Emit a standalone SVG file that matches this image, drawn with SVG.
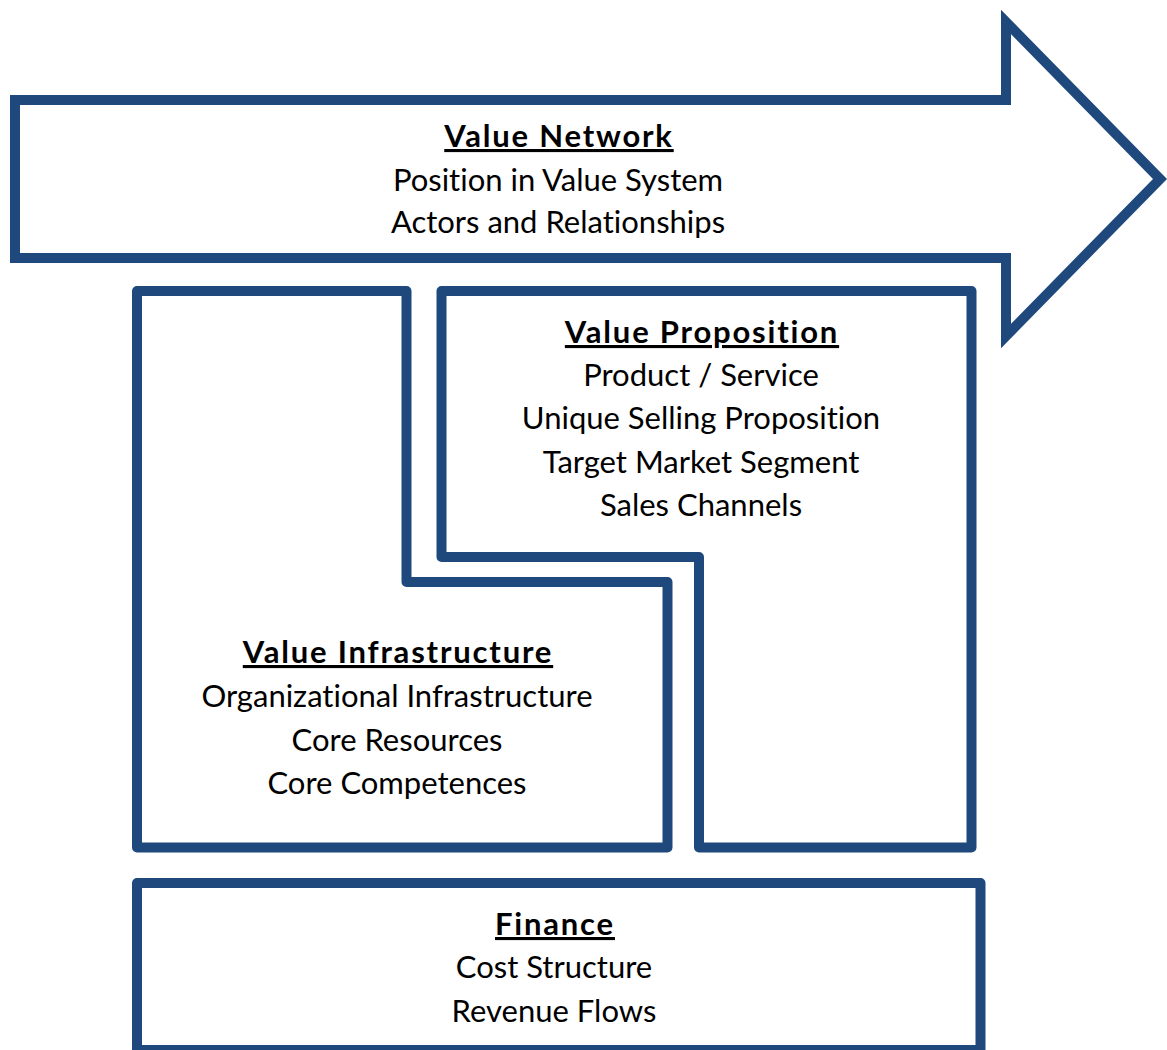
<svg xmlns="http://www.w3.org/2000/svg" width="1167" height="1050" viewBox="0 0 1167 1050">
  <style>
    .frame { fill: #ffffff; stroke: #1f497d; stroke-width: 10; }
    .round { stroke-linejoin: round; }
    .sharp { stroke-linejoin: miter; stroke-miterlimit: 10; }
    text { font-family: Lato, "Liberation Sans", Arial, sans-serif; font-size: 31px; fill: #000000; text-anchor: middle; font-variant-ligatures: none; }
    .title { font-weight: bold; text-decoration: underline; letter-spacing: 1.8px; }
  </style>
  <rect x="0" y="0" width="1167" height="1050" fill="#ffffff"/>

  <g id="value-network">
    <path class="frame sharp" d="M15,100 H1006 V22 L1160,179 L1006,336 V258 H15 Z"/>
    <text class="title" x="559" y="147">Value Network</text>
    <text x="558" y="191">Position in Value System</text>
    <text x="558" y="233">Actors and Relationships</text>
  </g>

  <g id="value-infrastructure">
    <path class="frame round" d="M137,291 H406.5 V582 H667.5 V847.5 H137 Z"/>
    <text class="title" x="398" y="663">Value Infrastructure</text>
    <text x="397" y="707">Organizational Infrastructure</text>
    <text x="397" y="751">Core Resources</text>
    <text x="397" y="794">Core Competences</text>
  </g>

  <g id="value-proposition">
    <path class="frame round" d="M441.5,291 H971.5 V847.5 H699 V557 H441.5 Z"/>
    <text class="title" x="702" y="343">Value Proposition</text>
    <text x="701" y="386">Product / Service</text>
    <text x="701" y="429">Unique Selling Proposition</text>
    <text x="701" y="473">Target Market Segment</text>
    <text x="701" y="516">Sales Channels</text>
  </g>

  <g id="finance">
    <rect class="frame round" x="137" y="883" width="843.5" height="167"/>
    <text class="title" x="555" y="935">Finance</text>
    <text x="554" y="978">Cost Structure</text>
    <text x="554" y="1022">Revenue Flows</text>
  </g>

  <g id="connectors"/>
</svg>
